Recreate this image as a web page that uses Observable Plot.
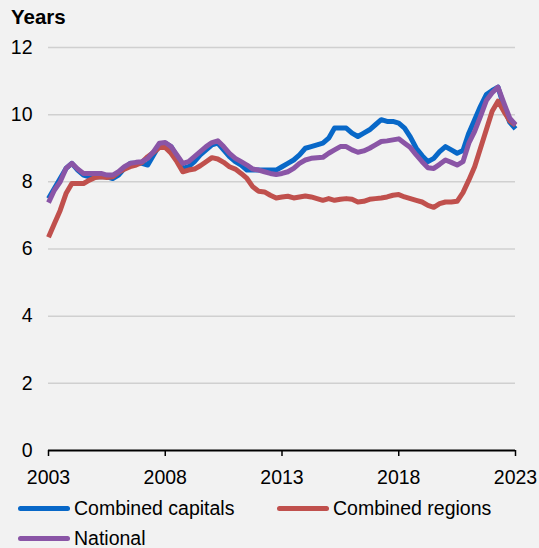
<!DOCTYPE html>
<html>
<head>
<meta charset="utf-8">
<script src="https://cdn.jsdelivr.net/npm/d3@7"></script>
<script src="https://cdn.jsdelivr.net/npm/@observablehq/plot@0.6"></script>
<style>
  html, body { margin: 0; padding: 0; background: #f2f2f2; }
  body { width: 539px; height: 548px; overflow: hidden; position: relative; font-family: "Liberation Sans", Arial, sans-serif; }
  #title { position: absolute; left: 11px; top: 5px; font-size: 20.5px; font-weight: bold; color: #000; }
  #chart { position: absolute; left: 0; top: 30px; }
  .leg { position: absolute; display: flex; align-items: center; font-size: 19.5px; color: #000; white-space: nowrap; }
  .sw { width: 52px; height: 5px; border-radius: 3px; margin-right: 4px; }
</style>
</head>
<body>
<div id="title">Years</div>
<div id="chart"></div>
<div id="legend"></div>
<script>
const seriesNames = ["Combined capitals", "Combined regions", "National"];
const seriesColors = ["#0868c8", "#c0504d", "#8a55a6"];
const xTicks = [2003, 2008, 2013, 2018, 2023];
const yTicks = [0, 2, 4, 6, 8, 10, 12];

const time = [
  2003, 2003.25, 2003.5, 2003.75, 2004, 2004.25, 2004.5, 2004.75,
  2005, 2005.25, 2005.5, 2005.75, 2006, 2006.25, 2006.5, 2006.75,
  2007, 2007.25, 2007.5, 2007.75, 2008, 2008.25, 2008.5, 2008.75,
  2009, 2009.25, 2009.5, 2009.75, 2010, 2010.25, 2010.5, 2010.75,
  2011, 2011.25, 2011.5, 2011.75, 2012, 2012.25, 2012.5, 2012.75,
  2013, 2013.25, 2013.5, 2013.75, 2014, 2014.25, 2014.5, 2014.75,
  2015, 2015.25, 2015.5, 2015.75, 2016, 2016.25, 2016.5, 2016.75,
  2017, 2017.25, 2017.5, 2017.75, 2018, 2018.25, 2018.5, 2018.75,
  2019, 2019.25, 2019.5, 2019.75, 2020, 2020.25, 2020.5, 2020.75,
  2021, 2021.25, 2021.5, 2021.75, 2022, 2022.25, 2022.5, 2022.75,
  2023
];

const capitals = [
  7.5, 7.8, 8.1, 8.4, 8.55, 8.35, 8.2, 8.15,
  8.15, 8.15, 8.15, 8.1, 8.2, 8.4, 8.55, 8.55,
  8.55, 8.5, 8.8, 9.1, 9.15, 9.05, 8.75, 8.4,
  8.45, 8.6, 8.8, 8.95, 9.1, 9.15, 8.95, 8.75,
  8.6, 8.5, 8.35, 8.35, 8.35, 8.35, 8.35, 8.35,
  8.45, 8.55, 8.65, 8.8, 9.0, 9.05, 9.1, 9.15,
  9.3, 9.6, 9.6, 9.6, 9.45, 9.35, 9.45, 9.55,
  9.7, 9.85, 9.8, 9.8, 9.75, 9.6, 9.33, 9.0,
  8.78, 8.6, 8.7, 8.9, 9.05, 8.95, 8.85, 8.93,
  9.45, 9.85, 10.25, 10.6, 10.72, 10.82, 10.25, 9.78,
  9.58
];

const regions = [
  6.35, 6.75, 7.15, 7.65, 7.95, 7.95, 7.95, 8.05,
  8.13, 8.15, 8.13, 8.15, 8.28, 8.38, 8.45, 8.5,
  8.58, 8.75, 8.88, 9.02, 9.02, 8.85, 8.6, 8.3,
  8.35, 8.38, 8.48, 8.6, 8.72, 8.68, 8.58, 8.45,
  8.38, 8.25, 8.1, 7.85, 7.72, 7.7, 7.6, 7.52,
  7.55, 7.57, 7.52, 7.55, 7.58, 7.55, 7.5, 7.45,
  7.5, 7.45, 7.48, 7.5, 7.48, 7.4, 7.42, 7.48,
  7.5, 7.52, 7.55, 7.6, 7.62, 7.55, 7.5, 7.45,
  7.4, 7.3, 7.24, 7.35, 7.4, 7.4, 7.42, 7.68,
  8.05, 8.45, 9.0, 9.55, 10.1, 10.4, 10.1, 9.82,
  9.68
];

const national = [
  7.38, 7.75, 8.0, 8.4, 8.55, 8.38, 8.25, 8.25,
  8.25, 8.25, 8.2, 8.2, 8.3, 8.45, 8.55, 8.58,
  8.6, 8.7, 8.9, 9.15, 9.17, 9.05, 8.8, 8.55,
  8.6, 8.75, 8.9, 9.05, 9.17, 9.22, 9.05, 8.85,
  8.7, 8.6, 8.5, 8.38, 8.35, 8.3, 8.25, 8.22,
  8.25, 8.3, 8.4, 8.55, 8.65, 8.7, 8.72, 8.73,
  8.85, 8.95, 9.05, 9.05, 8.95, 8.88, 8.92, 9.0,
  9.1, 9.2, 9.22, 9.25, 9.28, 9.15, 9.02, 8.8,
  8.6, 8.42, 8.4, 8.52, 8.65, 8.58, 8.5, 8.6,
  9.15, 9.5, 9.95, 10.42, 10.65, 10.82, 10.35, 9.9,
  9.7
];

const seriesValues = [capitals, regions, national];
const data = [];
seriesNames.forEach((name, i) => {
  time.forEach((t, j) => data.push({series: name, t, v: seriesValues[i][j]}));
});

const chart = Plot.plot({
  width: 539,
  height: 462,
  marginTop: 17,
  marginBottom: 42,
  marginLeft: 48,
  marginRight: 24,
  style: {background: "#f2f2f2", fontFamily: "Liberation Sans, Arial, sans-serif", fontSize: "19.5px", color: "#000"},
  x: {domain: [2003, 2023]},
  y: {domain: [0, 12]},
  color: {domain: seriesNames, range: seriesColors},
  marks: [
    Plot.gridY(yTicks.filter(d => d > 0), {stroke: "#d0d0d0", strokeOpacity: 1, strokeWidth: 1.5}),
    Plot.axisY(yTicks, {tickSize: 0, tickPadding: 16, label: null, fontSize: "19.5px"}),
    Plot.axisX(xTicks, {tickSize: 6, tickPadding: 14, label: null, tickFormat: d => String(d), stroke: "#000", strokeWidth: 1.5, fontSize: "19.5px"}),
    Plot.ruleY([0], {stroke: "#000", strokeWidth: 1.8}),
    Plot.line(data, {x: "t", y: "v", z: "series", stroke: "series", strokeWidth: 5, strokeLinejoin: "round", strokeLinecap: "butt"})
  ]
});
document.getElementById("chart").appendChild(chart);

const legendPos = [[18, 496], [277, 496], [18, 526]];
const legend = document.getElementById("legend");
seriesNames.forEach((name, i) => {
  const item = document.createElement("div");
  item.className = "leg";
  item.style.left = legendPos[i][0] + "px";
  item.style.top = legendPos[i][1] + "px";
  item.style.height = "24px";
  const sw = document.createElement("div");
  sw.className = "sw";
  sw.style.background = seriesColors[i];
  const label = document.createElement("span");
  label.textContent = name;
  item.appendChild(sw);
  item.appendChild(label);
  legend.appendChild(item);
});
</script>
</body>
</html>
